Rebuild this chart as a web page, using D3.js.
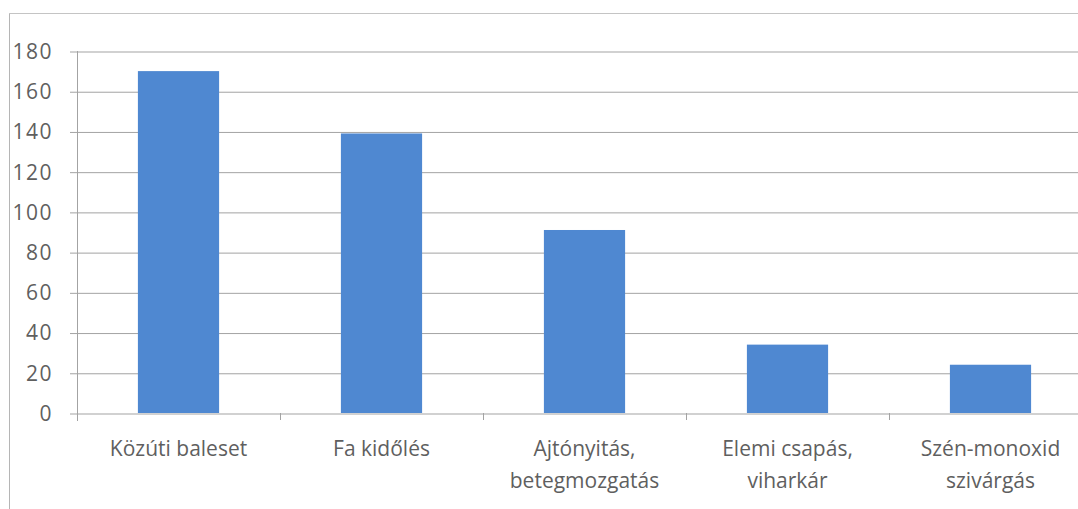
<!DOCTYPE html>
<html>
<head>
<meta charset="utf-8">
<script src="https://cdn.jsdelivr.net/npm/d3@7"></script>
<style>
body { margin: 0; background: #fff; }
text { font-family: 'Open Sans', sans-serif; fill: #5f5f5f; }
</style>
</head>
<body>
<script>
//data
var categories = [
    ['Közúti baleset'],
    ['Fa kidőlés'],
    ['Ajtónyitás,', 'betegmozgatás'],
    ['Elemi csapás,', 'viharkár'],
    ['Szén-monoxid', 'szivárgás']
];
var values = [170, 139, 91, 34, 24];
var y_ticks = [0, 20, 40, 60, 80, 100, 120, 140, 160, 180];

//layout
var svg_width = 1078;
var svg_height = 509;
var plot_left = 77;
var plot_top = 51;
var plot_bottom = 413;
var band_step = 203;
var grid_color = '#a3a3a3';

var svg = d3.select('body').append('svg')
    .attr('width', svg_width)
    .attr('height', svg_height);

//outer frame (left + top edges visible)
svg.append('line')
    .attr('x1', 9.5).attr('x2', 9.5)
    .attr('y1', 13).attr('y2', svg_height)
    .style('stroke', '#b5b5b5');
svg.append('line')
    .attr('x1', 9).attr('x2', svg_width)
    .attr('y1', 13.5).attr('y2', 13.5)
    .style('stroke', '#c4c4c4');

//scales
var idx = d3.range(categories.length);
var scale_x = d3.scaleBand()
    .domain(idx)
    .range([plot_left, plot_left + band_step * categories.length])
    .paddingInner(0.6)
    .paddingOuter(0.3);
var scale_y = d3.scaleLinear()
    .domain([0, 180])
    .range([plot_bottom, plot_top]);

//grid + y labels
var axis_y = d3.axisLeft(scale_y)
    .tickValues(y_ticks)
    .tickSize(0)
    .tickPadding(24);
var gy = svg.append('g')
    .attr('transform', 'translate(' + plot_left + ',0)')
    .call(axis_y);
gy.select('.domain').remove();
gy.selectAll('.tick text')
    .style('font-size', '21px')
    .style('letter-spacing', '1.5px')
    .attr('dy', '0.35em');
gy.selectAll('.tick').append('line')
    .attr('x1', -7)
    .attr('x2', svg_width)
    .attr('y1', 0.5).attr('y2', 0.5)
    .style('stroke', grid_color);

//y axis line
svg.append('line')
    .attr('x1', plot_left + 0.5).attr('x2', plot_left + 0.5)
    .attr('y1', plot_top).attr('y2', plot_bottom + 8)
    .style('stroke', grid_color);

//category ticks at band boundaries
svg.append('g').selectAll('line')
    .data(idx.slice(1))
    .enter().append('line')
    .attr('x1', function(d) { return scale_x(d) - scale_x.step() * 0.3 + 0.5; })
    .attr('x2', function(d) { return scale_x(d) - scale_x.step() * 0.3 + 0.5; })
    .attr('y1', plot_bottom)
    .attr('y2', plot_bottom + 7)
    .style('stroke', grid_color);

//bars
svg.append('g').selectAll('rect')
    .data(values)
    .enter().append('rect')
    .attr('x', function(d, i) { return scale_x(i); })
    .attr('y', function(d) { return scale_y(d); })
    .attr('width', scale_x.bandwidth())
    .attr('height', function(d) { return scale_y(0) - scale_y(d); })
    .style('fill', '#4f88d1');

//category labels
var labels = svg.append('g').selectAll('text')
    .data(categories)
    .enter().append('text')
    .attr('text-anchor', 'middle')
    .style('font-size', '21px')
    .attr('transform', function(d, i) {
        return 'translate(' + (scale_x(i) + scale_x.bandwidth() / 2) + ',' + 456 + ')';
    });
labels.selectAll('tspan')
    .data(function(d) { return d; })
    .enter().append('tspan')
    .attr('x', 0)
    .attr('y', function(d, j) { return j * 32; })
    .text(function(d) { return d; });
</script>
</body>
</html>
